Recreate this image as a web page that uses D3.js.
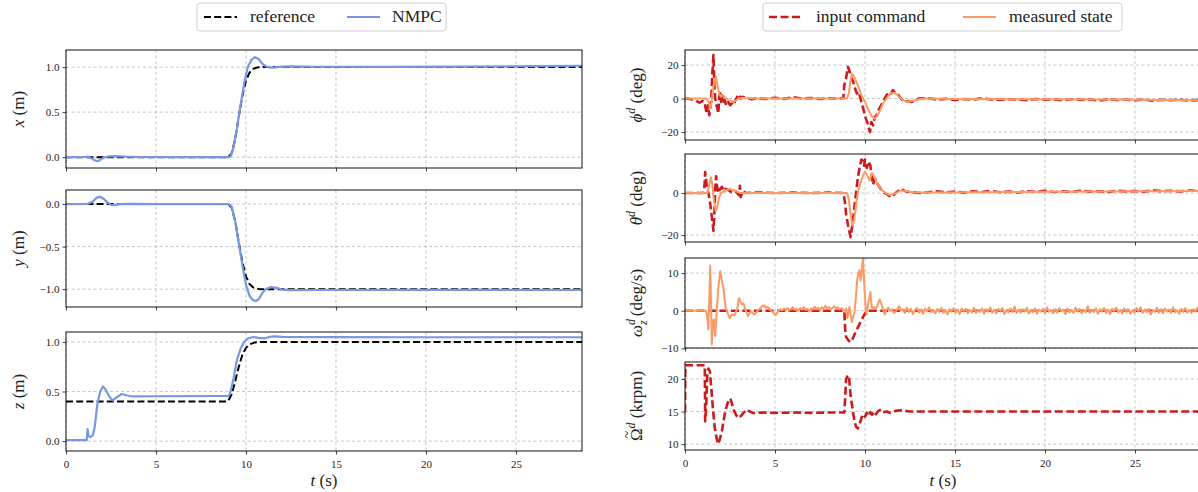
<!DOCTYPE html>
<html><head><meta charset="utf-8">
<script src="https://cdn.jsdelivr.net/npm/d3@7"></script>
<style>
body{margin:0;background:#fff}
svg{display:block}
text{font-family:"Liberation Serif","DejaVu Serif",serif;fill:#222}
</style>
</head><body>
<svg id="c" width="1198" height="492"></svg>
<script>
// ---------------- DATA ----------------
const timeTicks = [0, 5, 10, 15, 20, 25];
const timeMax = 28.67;

const refX = [[0,0],[9.0,0],[9.2,0.04],[9.4,0.2],[9.6,0.45],[9.8,0.68],[10.0,0.85],[10.2,0.94],[10.4,0.98],[10.6,0.995],[10.8,1.0],[28.7,1.0]];
const nmpcX = [[0,0],[0.9,0.002],[1.2,0.003],[1.4,-0.01],[1.6,-0.035],[1.75,-0.045],[1.9,-0.03],[2.1,-0.005],[2.4,0.01],[2.8,0.012],[3.3,0.006],[4,0.002],[9.05,0],[9.15,0.01],[9.3,0.1],[9.5,0.32],[9.7,0.58],[9.9,0.82],[10.1,1.0],[10.3,1.08],[10.5,1.11],[10.7,1.09],[10.9,1.04],[11.1,1.01],[11.3,0.995],[11.6,0.998],[12.0,1.006],[12.5,1.008],[14,1.004],[18,1.003],[22,1.006],[26,1.01],[28.7,1.015]];

const refY = [[0,0],[9.0,0],[9.2,-0.04],[9.4,-0.2],[9.6,-0.45],[9.8,-0.68],[10.0,-0.85],[10.2,-0.94],[10.4,-0.98],[10.6,-0.995],[10.8,-1.0],[28.7,-1.0]];
const nmpcY = [[0,0],[1.2,0.002],[1.5,0.03],[1.7,0.075],[1.9,0.085],[2.1,0.06],[2.3,0.02],[2.5,-0.01],[2.7,-0.012],[3.0,-0.002],[3.5,0.003],[5,0.0],[9.05,0],[9.2,-0.03],[9.4,-0.2],[9.6,-0.46],[9.8,-0.72],[10.0,-0.95],[10.2,-1.08],[10.4,-1.13],[10.55,-1.14],[10.7,-1.12],[10.9,-1.05],[11.1,-1.0],[11.4,-0.975],[11.7,-0.985],[12.0,-1.005],[12.4,-1.012],[14,-1.01],[20,-1.008],[28.7,-1.01]];

const refZ = [[0,0.4],[9.0,0.4],[9.2,0.47],[9.4,0.6],[9.6,0.75],[9.8,0.87],[10.0,0.94],[10.2,0.975],[10.5,0.995],[10.8,1.0],[28.7,1.0]];
const nmpcZ = [[0,0.01],[1.15,0.01],[1.2,0.12],[1.25,0.05],[1.35,0.04],[1.5,0.06],[1.6,0.15],[1.75,0.38],[1.9,0.5],[2.05,0.55],[2.2,0.52],[2.4,0.45],[2.6,0.41],[2.8,0.44],[3.1,0.475],[3.4,0.46],[3.7,0.45],[5,0.452],[9.0,0.455],[9.1,0.47],[9.3,0.62],[9.5,0.82],[9.7,0.93],[9.9,1.0],[10.1,1.035],[10.4,1.05],[10.7,1.04],[11.0,1.035],[11.3,1.05],[11.6,1.055],[12,1.05],[15,1.048],[20,1.047],[28.7,1.047]];

const phiCmd = [[0,0],[0.3,-0.3],[0.6,-1.2],[0.8,-2.5],[1.0,-1.5],[1.1,-3],[1.2,-9],[1.28,-4],[1.35,-10],[1.45,-2],[1.52,15],[1.58,26],[1.63,8],[1.7,-3],[1.78,-5],[1.85,-9],[1.9,0],[1.95,4],[2.0,-2],[2.05,2],[2.1,-3],[2.2,-1],[2.3,-4],[2.4,-2],[2.5,-4],[2.6,-3],[2.7,-4],[2.8,-1],[2.9,1],[3.0,2.5],[3.1,0],[3.2,1],[3.4,0.3],[3.7,-0.5],[4,0.2],[4.5,-0.3],[5,0.5],[5.5,-0.2],[6,0.8],[6.5,0],[7,0.3],[7.5,-0.3],[8,0.2],[8.5,0],[8.8,0.3],[8.85,8],[8.95,12],[9.05,19],[9.15,16],[9.25,12],[9.35,10],[9.45,6],[9.55,3],[9.65,4],[9.75,0],[9.85,-4],[9.95,-8],[10.05,-12],[10.15,-15],[10.22,-18],[10.28,-20],[10.35,-14],[10.45,-16],[10.55,-11],[10.65,-10],[10.75,-7],[10.85,-5],[10.95,-3],[11.05,-1],[11.2,2],[11.35,4],[11.45,3],[11.55,5],[11.7,3],[11.85,2],[12.0,0],[12.2,-2],[12.4,-1.5],[12.6,-2],[12.8,-1],[13.0,0],[13.5,0.2],[14,-0.6],[14.5,-0.2],[15,-0.8],[15.5,-0.3],[16,-0.7],[16.5,0.1],[17,-0.5],[17.5,-0.9],[18,-0.4],[18.5,-0.6],[19,-1.0],[19.5,-0.3],[20,-0.7],[20.5,-0.5],[21,-1.1],[21.5,-0.4],[22,-0.8],[22.5,-0.6],[23,-1.2],[23.5,-0.5],[24,-0.9],[24.5,-0.7],[25,-1.0],[25.5,-0.6],[26,-1.3],[26.5,-0.8],[27,-1.0],[27.5,-0.7],[28,-1.2],[28.7,-0.9]];
const phiMeas = [[0,0],[1.2,0],[1.3,-2],[1.4,-6],[1.47,-3],[1.55,5],[1.65,11],[1.73,13],[1.8,8],[1.9,3],[2.0,1],[2.1,2],[2.3,0],[2.5,-1.5],[2.7,-2],[2.85,-1],[3.0,0],[3.2,0.3],[4,0],[9.0,0],[9.1,3],[9.2,11],[9.28,15],[9.4,13],[9.6,8],[9.8,2],[10.0,-2],[10.2,-7],[10.4,-11],[10.55,-12],[10.7,-10],[10.85,-7],[11.0,-3],[11.2,0],[11.4,3],[11.6,3.5],[11.8,2],[12.0,0],[12.3,-2],[12.6,-1.5],[13,-0.5],[13.5,0],[15,-0.3],[20,-0.5],[25,-0.8],[28.7,-1]];

const thetaCmd = [[0,0],[1.0,0],[1.08,3],[1.12,10],[1.2,4],[1.3,0],[1.4,-5],[1.5,-12],[1.58,-18],[1.63,-10],[1.68,2],[1.73,8],[1.78,3],[1.85,0],[1.95,2],[2.05,3],[2.15,1],[2.25,2],[2.4,1.5],[2.6,0.5],[2.8,1],[3.0,-1],[3.05,3.5],[3.1,-2],[3.2,1],[3.4,0],[4,0.3],[5,0],[6,0.2],[7,0],[8,0.2],[8.8,0],[8.88,-4],[8.95,-10],[9.05,-15],[9.15,-19],[9.2,-21],[9.3,-15],[9.4,-8],[9.5,0],[9.6,7],[9.7,12],[9.8,16],[9.9,15],[9.95,13],[10.0,16],[10.1,12],[10.2,15],[10.3,13],[10.38,8],[10.45,4],[10.55,7],[10.65,5],[10.8,3],[10.95,1],[11.1,0],[11.3,-1],[11.45,-2],[11.7,0],[12.0,2],[12.2,1],[12.5,0.5],[13,0],[13.5,0.4],[14,0.9],[14.5,0.3],[15,0.7],[15.5,0.2],[16,0.8],[16.5,0.5],[17,1.0],[17.5,0.4],[18,0.7],[18.5,0.3],[19,0.9],[19.5,0.6],[20,1.1],[20.5,0.5],[21,0.8],[21.5,0.6],[22,1.2],[22.5,0.7],[23,0.9],[23.5,0.5],[24,1.1],[24.5,0.8],[25,1.0],[25.5,0.7],[26,1.3],[26.5,0.9],[27,1.1],[27.5,0.8],[28,1.2],[28.7,1.0]];
const thetaMeas = [[0,0],[1.25,0],[1.35,4],[1.44,7.5],[1.52,4],[1.6,-3],[1.7,-8.5],[1.78,-7],[1.9,-2],[2.0,0],[2.2,1],[2.5,2],[2.8,1],[3.1,0],[4,0],[9.0,0],[9.1,-3],[9.2,-10],[9.3,-15.5],[9.4,-13],[9.5,-6],[9.6,0],[9.75,5],[9.9,8.5],[10.0,10],[10.1,9],[10.25,6],[10.4,9.5],[10.5,8],[10.65,5],[10.8,3],[11.0,1],[11.2,-0.5],[11.4,-1],[11.7,0],[12.0,1.2],[12.3,1],[12.7,0.3],[13.5,0.3],[20,0.6],[28.7,1]];

const omegaCmd = [[0,0],[8.85,0],[8.9,-5],[8.95,-7],[9.1,-8],[9.24,-8.3],[9.4,-6.5],[9.6,-4.5],[9.8,-2.5],[10.0,-0.8],[10.1,0],[28.7,0]];
const omegaMeasHead = [[0,0],[1.15,0],[1.22,-1],[1.3,-5],[1.36,5],[1.4,12],[1.45,2],[1.49,-9],[1.55,-3],[1.6,-2.3],[1.68,-6.7],[1.75,-1],[1.85,6],[1.96,10.5],[2.05,8],[2.15,5.4],[2.25,1],[2.35,-0.4],[2.48,-2],[2.6,-1],[2.75,-1.2],[2.9,0.5],[3.0,3.3],[3.08,2.5],[3.15,1.7],[3.25,2],[3.36,0.2],[3.5,-1.4],[3.6,-0.5],[3.73,-0.4],[3.85,-1],[4.0,-0.2],[4.15,0.5],[4.3,1.3],[4.4,1.4],[4.5,0.8],[4.6,1.0],[4.75,0.2],[4.9,-0.5],[5.04,-1.2],[5.15,-0.3],[5.3,0.4],[5.4,0.1],[5.5,0.6],[5.6,0.2],[5.7,0.7],[5.8,0.1],[5.9,0.5],[6.0,0.9],[6.1,0.2],[6.2,0.6],[6.3,-0.1],[6.4,0.7],[6.5,0.3],[6.6,1.0],[6.7,0.2],[6.8,0.5],[6.9,-0.2],[7.0,0.6],[7.1,0.3],[7.2,1.1],[7.3,0.4],[7.4,0.8],[7.5,0.1],[7.6,0.9],[7.7,0.4],[7.8,1.3],[7.9,0.6],[8.0,1.0],[8.1,0.3],[8.2,0.8],[8.3,1.2],[8.4,0.5],[8.5,0.9],[8.6,0.3],[8.7,0.7],[8.8,0.2],[8.9,0.0],[8.96,0.6],[9.02,-2],[9.08,-0.5],[9.14,1],[9.2,-1],[9.27,-3],[9.35,-1.5],[9.42,-0.5],[9.5,4],[9.57,8.3],[9.63,10],[9.7,10.8],[9.75,8],[9.8,9],[9.85,12],[9.89,14],[9.94,9],[10.0,3.5],[10.05,0],[10.1,-1],[10.15,1],[10.2,2.5],[10.25,3.5],[10.3,5],[10.35,2],[10.4,0.5],[10.5,1],[10.6,0.5],[10.7,1.5],[10.82,3],[10.9,2],[11.0,0.5],[11.1,-1],[11.2,0.3],[11.3,0.8],[11.4,0],[11.5,0.4],[11.6,-0.6],[11.7,-0.2],[11.8,0.5],[11.9,1.2],[12.0,0.2]];
// steady-state tail of measured yaw rate, sampled on a uniform grid from 12.1 s to 28.7 s
const omegaMeasTailStart = 12.1, omegaMeasTailEnd = 28.7;
const omegaMeasTail = [0.4,-0.6,0.8,-0.3,0.5,-0.9,0.2,0.7,-0.5,0.3,-0.8,0.6,-0.2,0.9,-0.4,0.1,-0.7,0.5,-0.3,0.8,
-0.6,0.2,-1.0,0.4,-0.2,0.7,-0.5,0.3,-0.9,0.6,-0.1,0.5,-0.7,0.2,-0.4,0.8,-0.6,0.1,-0.3,0.6,
-0.8,0.4,-0.2,0.9,-0.5,0.3,-0.7,0.5,-0.1,0.7,-0.9,0.2,-0.4,0.6,-0.3,1.1,-0.6,0.3,-0.5,0.4,
-0.2,0.8,-0.7,0.1,-0.4,0.6,-0.8,0.3,-0.2,0.5,-0.6,0.9,-0.3,0.2,-0.7,0.4,-0.5,0.7,-0.1,0.3,
-0.9,0.6,-0.4,0.2,-0.6,0.8,-0.2,0.5,-0.7,0.3,-0.4,1.2,-0.5,0.1,-0.3,0.6,-0.8,0.4,-0.2,0.7,
-0.6,0.3,-0.9,0.5,-0.1,0.8,-0.4,0.2,-0.7,0.6,-0.3,0.4,-0.8,0.1,-0.5,0.7,-0.2,0.9,-0.6,0.3,
-0.4,0.5,-1.0,0.2,-0.3,0.8,-0.5,0.4,-0.7,0.6,-0.2,0.3,-0.6,0.9,-0.4,0.1,-0.8,0.5,-0.3,0.7,
-0.5,0.2,-0.6,0.4,-0.2,0.8,-0.7,0.3];

const rotorCmd = [[0,15],[0.02,22.1],[1.1,22.1],[1.12,13.5],[1.18,16],[1.24,21],[1.3,21.6],[1.38,21.2],[1.45,19],[1.55,15.5],[1.65,12.6],[1.75,11],[1.83,10],[1.92,10.6],[2.05,12],[2.2,14.5],[2.33,16],[2.45,16.8],[2.52,17],[2.6,16.3],[2.7,15.3],[2.85,14.4],[2.98,14],[3.1,14.3],[3.25,14.8],[3.45,15.3],[3.6,15.0],[3.8,14.75],[4.2,14.85],[5,14.8],[6,14.85],[7,14.8],[8,14.85],[8.85,14.85],[8.9,17],[8.95,20],[9.05,20.6],[9.12,20],[9.2,17.5],[9.33,15],[9.42,13.5],[9.5,12.7],[9.6,12.4],[9.7,13],[9.8,14],[9.9,14.6],[10.0,14.2],[10.1,14.8],[10.2,14.3],[10.3,14.9],[10.4,14.5],[10.5,15.0],[10.6,14.6],[10.75,15.1],[10.9,15.3],[11.0,14.9],[11.2,15.0],[11.4,14.8],[11.7,15.1],[12.0,15.2],[12.5,15],[28.7,15]];

const ticksX = [0, 0.5, 1.0];
const ticksY = [0, -0.5, -1.0];
const ticksZ = [0, 0.5, 1.0];
const ticksPhi = [-20, 0, 20];
const ticksTheta = [-20, 0];
const ticksOmega = [-10, 0, 10];
const ticksRotor = [10, 15, 20];

// ---------------- STYLE ----------------
const C_REF = "#000000", C_NMPC = "#7896e4", C_CMD = "#cc1b1f", C_MEAS = "#fc9a66";
const SERIF = '"Liberation Serif","DejaVu Serif",serif';

const svg = d3.select("#c");
const tailStep = (omegaMeasTailEnd - omegaMeasTailStart) / (omegaMeasTail.length - 1);
const omegaMeas = omegaMeasHead.concat(omegaMeasTail.map((v, i) => [omegaMeasTailStart + i * tailStep, v]));

let clipId = 0;
function panel(o) {
  const x = d3.scaleLinear().domain([0, timeMax]).range([o.x0, o.x1]);
  const y = d3.scaleLinear().domain(o.yDomain).range([o.y1, o.y0]);
  const g = svg.append("g");
  g.append("g").selectAll("line").data(timeTicks).join("line")
    .attr("x1", d => x(d)).attr("x2", d => x(d)).attr("y1", o.y0).attr("y2", o.y1)
    .attr("stroke", "#b8b8b8").attr("stroke-width", 0.8).attr("stroke-dasharray", "3,2.5");
  g.append("g").selectAll("line").data(o.yTicks).join("line")
    .attr("x1", o.x0).attr("x2", o.x1).attr("y1", d => y(d)).attr("y2", d => y(d))
    .attr("stroke", "#b8b8b8").attr("stroke-width", 0.8).attr("stroke-dasharray", "3,2.5");
  const id = "clip" + (clipId++);
  svg.append("clipPath").attr("id", id).append("rect")
    .attr("x", o.x0).attr("y", o.y0).attr("width", o.x1 - o.x0).attr("height", o.y1 - o.y0);
  const line = d3.line().x(d => x(d[0])).y(d => y(d[1]));
  const lg = g.append("g").attr("clip-path", `url(#${id})`);
  o.series.forEach(s => {
    lg.append("path").attr("d", line(s.data)).attr("fill", "none")
      .attr("stroke", s.color).attr("stroke-width", s.w)
      .attr("stroke-dasharray", s.dash || null)
      .attr("stroke-linejoin", "round").attr("stroke-linecap", s.dash ? "butt" : "round");
  });
  const xa = g.append("g").attr("transform", `translate(0,${o.y1})`)
    .call(d3.axisBottom(x).tickValues(timeTicks).tickSize(3.5).tickFormat(o.showX ? d3.format("d") : ""));
  const ya = g.append("g").attr("transform", `translate(${o.x0},0)`)
    .call(d3.axisLeft(y).tickValues(o.yTicks).tickSize(3.5).tickFormat(o.fmt));
  [xa, ya].forEach(a => {
    a.attr("font-family", SERIF).attr("font-size", 11);
    a.select(".domain").remove();
    a.selectAll("line").attr("stroke", "#111").attr("stroke-width", 0.8);
    a.selectAll("text").attr("font-family", SERIF).style("font-family", SERIF).style("font-size", "11px").attr("fill", "#222");
  });
  xa.selectAll("text").attr("dy", "0.95em");
  g.append("rect").attr("x", o.x0).attr("y", o.y0).attr("width", o.x1 - o.x0).attr("height", o.y1 - o.y0)
    .attr("fill", "none").attr("stroke", "#111").attr("stroke-width", 1);
  const tr = `translate(${o.labelX},${(o.y0 + o.y1) / 2}) rotate(-90)`;
  const lab = g.append("text").attr("transform", tr)
    .attr("text-anchor", "middle").style("font-size", "17px");
  o.label(lab, g, tr);
  return {x, y};
}

const fmt1 = d => d3.format(".1f")(d);
const fmt0 = d => d3.format("d")(d);

function mathLabel(sym, rest) {
  return t => {
    t.append("tspan").style("font-style", "italic").text(sym);
    t.append("tspan").text(" " + rest);
  };
}
function supLabel(sym, italic, sub, rest, tilde) {
  return (t, g, tr) => {
    t.append("tspan").style("font-style", italic ? "italic" : "normal").text(sym);
    t.append("tspan").style("font-style", "italic").style("font-size", "12px").attr("dy", -7).text("d");
    if (sub) t.append("tspan").style("font-style", "italic").style("font-size", "12px").attr("dx", -6).attr("dy", 12).text(sub);
    t.append("tspan").attr("dy", sub ? -5 : 7).text(" " + rest);
    if (tilde) {
      const n = t.node();
      const p0 = n.getStartPositionOfChar(0), p1 = n.getEndPositionOfChar(0);
      g.append("text").attr("transform", tr).attr("x", (p0.x + p1.x) / 2).attr("y", p0.y - 10)
        .attr("text-anchor", "middle").style("font-size", "14px").text("~");
    }
  };
}

const LX0 = 66, LX1 = 582, RX0 = 685, RX1 = 1201;
panel({x0: LX0, x1: LX1, y0: 50, y1: 168, yDomain: [-0.12, 1.19], yTicks: ticksX, fmt: fmt1, showX: false, labelX: 24,
  label: mathLabel("x", "(m)"),
  series: [{data: refX, color: C_REF, w: 2, dash: "7,3.2"}, {data: nmpcX, color: C_NMPC, w: 2.2}]});
panel({x0: LX0, x1: LX1, y0: 190, y1: 307, yDomain: [-1.21, 0.165], yTicks: ticksY, fmt: fmt1, showX: false, labelX: 24,
  label: mathLabel("y", "(m)"),
  series: [{data: refY, color: C_REF, w: 2, dash: "7,3.2"}, {data: nmpcY, color: C_NMPC, w: 2.2}]});
panel({x0: LX0, x1: LX1, y0: 332, y1: 451, yDomain: [-0.1, 1.1], yTicks: ticksZ, fmt: fmt1, showX: true, labelX: 24,
  label: mathLabel("z", "(m)"),
  series: [{data: refZ, color: C_REF, w: 2, dash: "7,3.2"}, {data: nmpcZ, color: C_NMPC, w: 2.2}]});

panel({x0: RX0, x1: RX1, y0: 50, y1: 140, yDomain: [-24.8, 29], yTicks: ticksPhi, fmt: fmt0, showX: false, labelX: 642,
  label: supLabel("ϕ", true, null, "(deg)"),
  series: [{data: phiCmd, color: C_CMD, w: 2.6, dash: "8,3.5"}, {data: phiMeas, color: C_MEAS, w: 2}]});
panel({x0: RX0, x1: RX1, y0: 154, y1: 242, yDomain: [-23.3, 18.6], yTicks: ticksTheta, fmt: fmt0, showX: false, labelX: 642,
  label: supLabel("θ", true, null, "(deg)"),
  series: [{data: thetaCmd, color: C_CMD, w: 2.6, dash: "8,3.5"}, {data: thetaMeas, color: C_MEAS, w: 2}]});
panel({x0: RX0, x1: RX1, y0: 258, y1: 348, yDomain: [-9.9, 14], yTicks: ticksOmega, fmt: fmt0, showX: false, labelX: 642,
  label: supLabel("ω", true, "z", "(deg/s)"),
  series: [{data: omegaCmd, color: C_CMD, w: 2.6, dash: "8,3.5"}, {data: omegaMeas, color: C_MEAS, w: 2}]});
panel({x0: RX0, x1: RX1, y0: 362, y1: 450, yDomain: [9.1, 22.6], yTicks: ticksRotor, fmt: fmt0, showX: true, labelX: 642,
  label: supLabel("Ω", false, null, "(krpm)", true),
  series: [{data: rotorCmd, color: C_CMD, w: 2.6, dash: "8,3.5"}]});

function tLabel(cx) {
  const t = svg.append("text").attr("x", cx).attr("y", 486).attr("text-anchor", "middle").style("font-size", "17px");
  t.append("tspan").style("font-style", "italic").text("t");
  t.append("tspan").text(" (s)");
}
tLabel(324); tLabel(943);

function legend(x, y, w, h, items) {
  const g = svg.append("g");
  g.append("rect").attr("x", x).attr("y", y).attr("width", w).attr("height", h).attr("rx", 3)
    .attr("fill", "#fff").attr("stroke", "#d0d0d0").attr("stroke-width", 1);
  items.forEach(it => {
    g.append("line").attr("x1", it.lx).attr("x2", it.lx + 33).attr("y1", y + h / 2).attr("y2", y + h / 2)
      .attr("stroke", it.color).attr("stroke-width", it.w).attr("stroke-dasharray", it.dash || null);
    g.append("text").attr("x", it.tx).attr("y", y + h / 2 + 5).style("font-size", "17.5px").text(it.label);
  });
}
legend(197, 3, 249, 28, [
  {lx: 204, tx: 250, color: C_REF, w: 2, dash: "7,3.2", label: "reference"},
  {lx: 347, tx: 392, color: C_NMPC, w: 2.2, label: "NMPC"}]);
legend(763, 3, 359, 28, [
  {lx: 769, tx: 816, color: C_CMD, w: 2.6, dash: "8,3.5", label: "input command"},
  {lx: 963, tx: 1009, color: C_MEAS, w: 2, label: "measured state"}]);
</script>
</body></html>
